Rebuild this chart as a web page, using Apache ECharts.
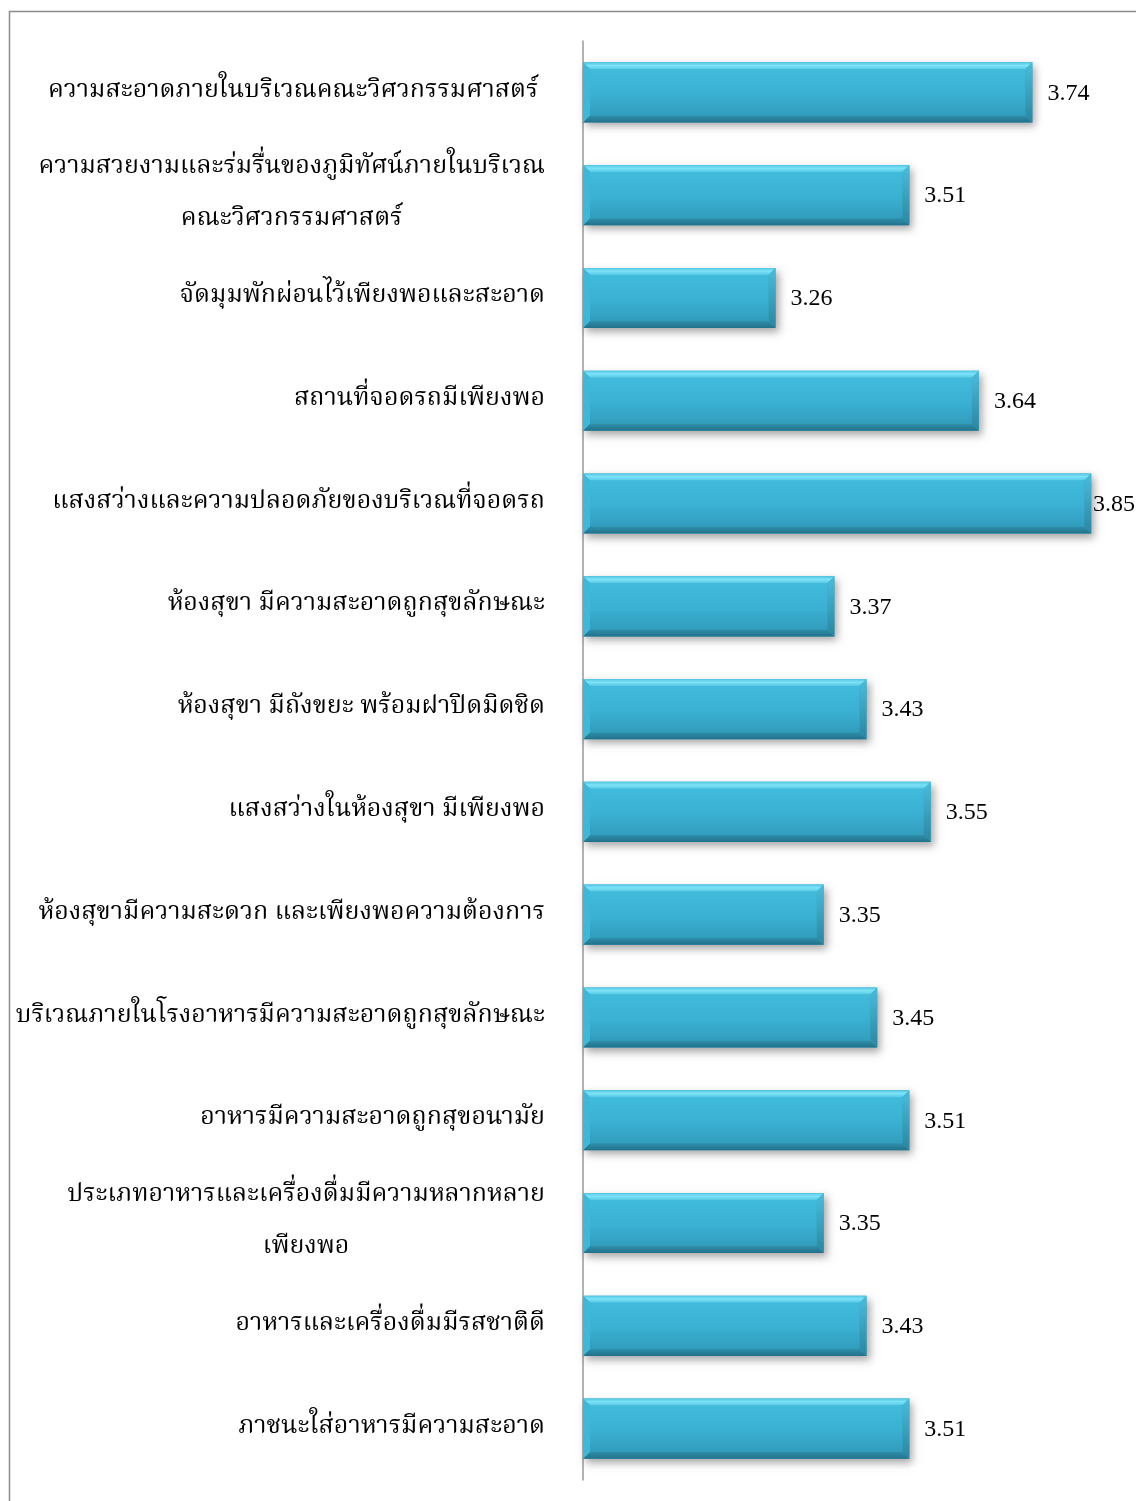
<!DOCTYPE html>
<html>
<head>
<meta charset="utf-8">
<script src="https://cdn.jsdelivr.net/npm/echarts@6/dist/echarts.min.js"></script>
<style>
  html, body { margin: 0; padding: 0; background: #ffffff; }
  #chart { width: 1136px; height: 1501px; }
</style>
</head>
<body>
<div id="chart"></div>
<script>
// Satisfaction items (top to bottom) and their mean scores
const categories = [
  'ความสะอาดภายในบริเวณคณะวิศวกรรมศาสตร์ ',
  'ความสวยงามและร่มรื่นของภูมิทัศน์ภายในบริเวณ\nคณะวิศวกรรมศาสตร์',
  'จัดมุมพักผ่อนไว้เพียงพอและสะอาด',
  'สถานที่จอดรถมีเพียงพอ',
  'แสงสว่างและความปลอดภัยของบริเวณที่จอดรถ',
  'ห้องสุขา มีความสะอาดถูกสุขลักษณะ',
  'ห้องสุขา มีถังขยะ พร้อมฝาปิดมิดชิด',
  'แสงสว่างในห้องสุขา มีเพียงพอ',
  'ห้องสุขามีความสะดวก และเพียงพอความต้องการ',
  'บริเวณภายในโรงอาหารมีความสะอาดถูกสุขลักษณะ',
  'อาหารมีความสะอาดถูกสุขอนามัย',
  'ประเภทอาหารและเครื่องดื่มมีความหลากหลาย\nเพียงพอ',
  'อาหารและเครื่องดื่มมีรสชาติดี',
  'ภาชนะใส่อาหารมีความสะอาด'
];
const scores = [3.74, 3.51, 3.26, 3.64, 3.85, 3.37, 3.43, 3.55, 3.35, 3.45, 3.51, 3.35, 3.43, 3.51];

const axisMin = 2.9;
const axisMax = 3.9;

const thaiFont = '"Noto Serif Thai", "Noto Sans Thai", "Noto Sans", serif';
const numFont = '"Liberation Serif", "DejaVu Serif", serif';
const numSize = 24;
const catSize = 25;

const chart = echarts.init(document.getElementById('chart'), null, { renderer: 'canvas' });

// Bevelled bar: four sloped edge faces around a flat centre face
function renderBevelBar(params, api) {
  const idx = api.value(0);
  const val = api.value(1);
  const p0 = api.coord([axisMin, idx]);
  const p1 = api.coord([val, idx]);
  const band = api.size([0, 1])[1];
  const h = band * 0.585;
  const x0 = p0[0], x1 = p1[0];
  const y0 = p0[1] - h / 2, y1 = p0[1] + h / 2;
  const b = 7;
  const text = val.toFixed(2);
  // keep the value label inside the chart's right edge
  const textW = echarts.format.getTextRect
    ? echarts.format.getTextRect(text, numSize + 'px ' + numFont).width
    : 42;
  const labelX = Math.min(x1 + 15, api.getWidth() - textW - 1);
  const poly = (pts, fill) => ({ type: 'polygon', shape: { points: pts }, style: { fill: fill }, silent: true });
  return {
    type: 'group',
    children: [
      {
        type: 'rect',
        shape: { x: x0, y: y0, width: x1 - x0, height: h },
        style: {
          fill: '#35a8c8',
          shadowBlur: 8,
          shadowOffsetX: 3,
          shadowOffsetY: 4,
          shadowColor: 'rgba(0,0,0,0.35)'
        }
      },
      {
        type: 'rect',
        shape: { x: x0 + b, y: y0 + b, width: x1 - x0 - 2 * b, height: h - 2 * b },
        style: {
          fill: new echarts.graphic.LinearGradient(0, 0, 0, 1, [
            { offset: 0, color: '#41bbdb' },
            { offset: 0.55, color: '#3ab0d2' },
            { offset: 1, color: '#329dbd' }
          ])
        }
      },
      poly([[x0, y0], [x1, y0], [x1 - b, y0 + b], [x0 + b, y0 + b]],
        new echarts.graphic.LinearGradient(0, 0, 0, 1, [
          { offset: 0, color: '#4fc6e2' },
          { offset: 0.45, color: '#7fe2f7' },
          { offset: 1, color: '#55c9e6' }
        ])),
      poly([[x0, y1], [x1, y1], [x1 - b, y1 - b], [x0 + b, y1 - b]],
        new echarts.graphic.LinearGradient(0, 0, 0, 1, [
          { offset: 0, color: '#2f8fab' },
          { offset: 1, color: '#22718a' }
        ])),
      poly([[x0, y0], [x0 + b, y0 + b], [x0 + b, y1 - b], [x0, y1]], '#3fb7d7'),
      poly([[x1, y0], [x1 - b, y0 + b], [x1 - b, y1 - b], [x1, y1]],
        new echarts.graphic.LinearGradient(0, 0, 0, 1, [
          { offset: 0, color: '#49bddc' },
          { offset: 1, color: '#2a86a1' }
        ])),
      {
        type: 'text',
        style: {
          text: text,
          x: labelX,
          y: p0[1] + 1,
          verticalAlign: 'middle',
          align: 'left',
          fill: '#000000',
          font: numSize + 'px ' + numFont
        },
        silent: true
      }
    ]
  };
}

chart.setOption({
  animation: false,
  backgroundColor: '#ffffff',
  graphic: [
    {
      type: 'rect',
      shape: { x: 9.5, y: 11.5, width: 1300, height: 1700 },
      style: { fill: 'none', stroke: '#8c8c8c', lineWidth: 1.5 },
      silent: true,
      z: -1
    }
  ],
  grid: { left: 583, right: 18, top: 41, bottom: 21, containLabel: false, outerBoundsMode: 'none' },
  xAxis: {
    type: 'value',
    min: axisMin,
    max: axisMax,
    show: false
  },
  yAxis: {
    type: 'category',
    data: categories,
    inverse: true,
    axisLine: { show: true, lineStyle: { color: '#9a9a9a', width: 1.5 } },
    axisTick: { show: false },
    splitLine: { show: false },
    axisLabel: {
      margin: 38,
      color: '#000000',
      fontFamily: thaiFont,
      fontSize: catSize,
      lineHeight: 52,
      formatter: (v) => v.split('\n').map((l) => '{c|' + l + '}').join('\n'),
      rich: {
        c: { align: 'center', fontFamily: thaiFont, fontSize: catSize, lineHeight: 52, color: '#000000' }
      }
    }
  },
  series: [
    {
      type: 'custom',
      renderItem: renderBevelBar,
      encode: { x: 1, y: 0 },
      data: scores.map((s, i) => [i, s]),
      clip: false
    }
  ]
});
</script>
</body>
</html>
